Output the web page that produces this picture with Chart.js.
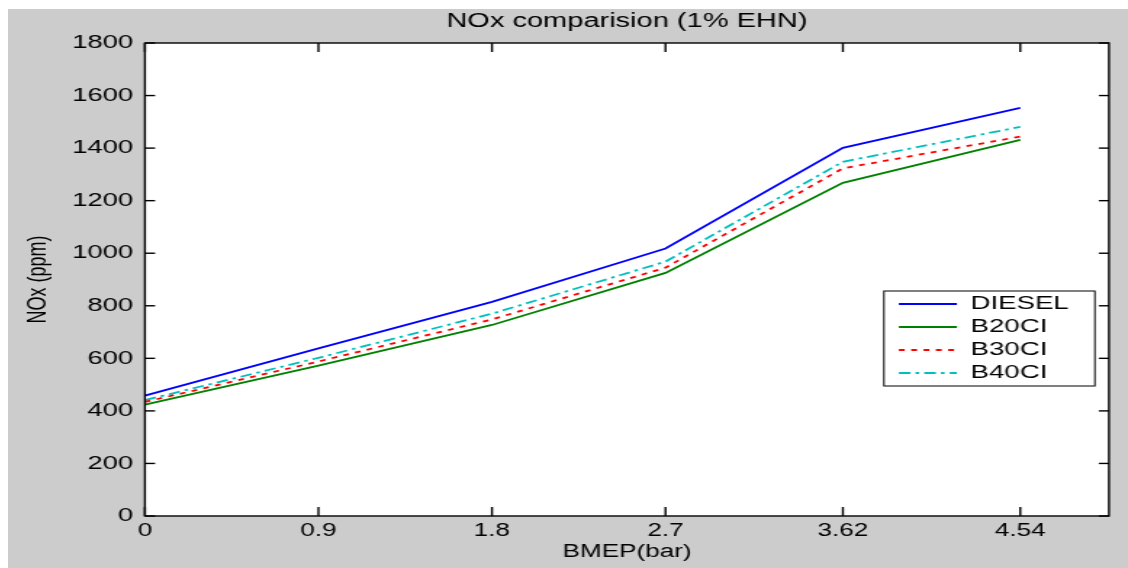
<!DOCTYPE html>
<html>
<head>
<meta charset="utf-8">
<title>NOx comparision (1% EHN)</title>
<script src="https://cdn.jsdelivr.net/npm/chart.js@4.4.1/dist/chart.umd.min.js"></script>
<style>
  body { margin: 0; background: #ffffff; }
</style>
</head>
<body>
<canvas id="noxChart" width="772" height="559"
  style="position:absolute;left:8px;top:9px;width:1120px;height:559px;background:#cccccc"></canvas>
<script>
// BMEP (bar) at which NOx was measured
const bmep = [0, 0.9, 1.8, 2.7, 3.62, 4.54];
const xTickLabels = ['0', '0.9', '1.8', '2.7', '3.62', '4.54'];

// NOx (ppm) per fuel
const diesel = [458, 638, 815, 1018, 1401, 1553];
const b20ci = [424, 572, 727, 925, 1268, 1431];
const b30ci = [434, 588, 748, 945, 1323, 1444];
const b40ci = [441, 602, 770, 968, 1348, 1481];

const seriesNames = ['DIESEL', 'B20CI', 'B30CI', 'B40CI'];

const toPoints = (values) => bmep.map((x, i) => ({ x: x, y: values[i] }));

// white plot area, box, inward ticks and legend frame (MATLAB look)
const matlabFrame = {
  id: 'matlabFrame',
  beforeDraw(chart) {
    const { ctx, chartArea: a } = chart;
    ctx.save();
    ctx.fillStyle = '#ffffff';
    ctx.fillRect(a.left, a.top, a.width, a.height);
    ctx.restore();
  },
  afterLayout(chart) {
    // put the legend inside the plot, lower right
    const lg = chart.legend;
    const a = chart.chartArea;
    lg.left = a.right - 148.8;
    lg.top = a.top + 247.5;
    lg.right = lg.left + lg.width;
    lg.bottom = lg.top + 100;
  },
  afterDraw(chart) {
    const { ctx, chartArea: a, scales } = chart;
    const line = (x1, y1, x2, y2) => {
      ctx.beginPath();
      ctx.moveTo(x1, y1);
      ctx.lineTo(x2, y2);
      ctx.stroke();
    };
    ctx.save();
    ctx.strokeStyle = '#000000';
    ctx.lineWidth = 1.4;
    scales.x.ticks.forEach((t) => {
      const px = scales.x.getPixelForValue(t.value);
      line(px, a.bottom, px, a.bottom - 9);
      line(px, a.top, px, a.top + 9);
    });
    scales.y.ticks.forEach((t) => {
      const py = scales.y.getPixelForValue(t.value);
      line(a.left, py, a.left + 7, py);
      line(a.right, py, a.right - 7, py);
    });
    ctx.strokeRect(a.left, a.top, a.width, a.height);

    // legend frame
    const lg = chart.legend;
    ctx.lineWidth = 1;
    ctx.strokeRect(lg.left - 6.3, lg.top + 0.5, 145.4, 95);
    ctx.restore();
  }
};

const ctx = document.getElementById('noxChart').getContext('2d');
new Chart(ctx, {
  type: 'line',
  data: {
    datasets: [
      {
        label: seriesNames[0],
        data: toPoints(diesel),
        borderColor: '#0000ff',
        borderWidth: 1.8
      },
      {
        label: seriesNames[1],
        data: toPoints(b20ci),
        borderColor: '#008000',
        borderWidth: 1.8
      },
      {
        label: seriesNames[2],
        data: toPoints(b30ci),
        borderColor: '#ff0000',
        borderWidth: 1.8,
        borderDash: [4, 4.5]
      },
      {
        label: seriesNames[3],
        data: toPoints(b40ci),
        borderColor: '#00bfbf',
        borderWidth: 1.8,
        borderDash: [8, 3.5, 2.5, 3.5]
      }
    ]
  },
  options: {
    responsive: false,
    animation: false,
    layout: {
      padding: { left: 0, right: 13.1, top: 0, bottom: 0 }
    },
    elements: {
      point: { radius: 0 },
      line: { tension: 0, fill: false }
    },
    plugins: {
      title: {
        display: true,
        text: 'NOx comparision (1% EHN)',
        color: '#000000',
        fullSize: false,
        font: { family: 'Liberation Sans, Arial, sans-serif', size: 20, weight: 'normal' },
        padding: { top: 0, bottom: 10 }
      },
      legend: {
        position: 'chartArea',
        align: 'start',
        labels: {
          color: '#000000',
          font: { family: 'Liberation Sans, Arial, sans-serif', size: 19 },
          usePointStyle: true,
          pointStyle: 'line',
          pointStyleWidth: 40,
          padding: 4,
          // point styles lose the dash, so copy it from the dataset
          generateLabels: (chart) => {
            const items = Chart.defaults.plugins.legend.labels.generateLabels(chart);
            return items.map((item) => {
              const ds = chart.data.datasets[item.datasetIndex];
              item.lineDash = ds.borderDash || [];
              item.lineWidth = ds.borderWidth;
              item.strokeStyle = ds.borderColor;
              return item;
            });
          }
        }
      },
      tooltip: { enabled: false }
    },
    scales: {
      x: {
        type: 'linear',
        min: 0,
        max: 5,
        grid: { display: false, drawTicks: false },
        border: { display: false },
        afterBuildTicks: (axis) => {
          axis.ticks = bmep.map((v) => ({ value: v }));
        },
        afterFit: (axis) => {
          axis.height = 52;
        },
        ticks: {
          color: '#000000',
          padding: 4,
          maxRotation: 0,
          autoSkip: false,
          font: { family: 'Liberation Sans, Arial, sans-serif', size: 18 },
          callback: (value) => xTickLabels[bmep.indexOf(value)]
        },
        title: {
          display: true,
          text: 'BMEP(bar)',
          color: '#000000',
          font: { family: 'Liberation Sans, Arial, sans-serif', size: 18 },
          padding: { top: 0, bottom: 5.2 }
        }
      },
      y: {
        min: 0,
        max: 1800,
        grid: { display: false, drawTicks: false },
        border: { display: false },
        afterFit: (axis) => {
          axis.width = 94.4;
        },
        ticks: {
          stepSize: 200,
          color: '#000000',
          padding: 8,
          font: { family: 'Liberation Sans, Arial, sans-serif', size: 19 },
          callback: (value) => String(value)
        },
        title: {
          display: true,
          text: 'NOx (ppm)',
          color: '#000000',
          font: { family: 'Liberation Sans, Arial, sans-serif', size: 18 },
          padding: { top: 10.6, bottom: 0 }
        }
      }
    }
  },
  plugins: [matlabFrame]
});
</script>
</body>
</html>
